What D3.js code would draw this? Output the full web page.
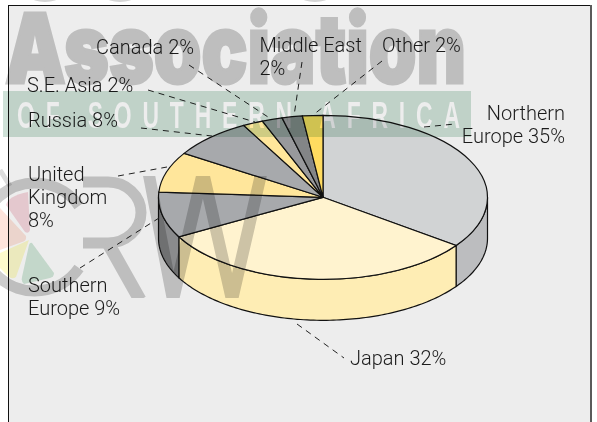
<!DOCTYPE html>
<html>
<head>
<meta charset="utf-8">
<script src="https://cdn.jsdelivr.net/npm/d3@7"></script>
<style>
  html, body { margin: 0; padding: 0; background: #fff; }
  svg { display: block; }
  text { font-family: Roboto, sans-serif; font-weight: 300; font-size: 20px; fill: #1c1c1c; }
</style>
</head>
<body>
<div id="chart"></div>
<script>
// values, clockwise from 12 o'clock
var regions = ["Northern Europe", "Japan", "Southern Europe", "United Kingdom", "Russia", "S.E. Asia", "Canada", "Middle East", "Other"];
var shares = [35, 32, 9, 8, 8, 2, 2, 2, 2];
var labelLines = [["Northern", "Europe 35%"], ["Japan 32%"], ["Southern", "Europe 9%"], ["United", "Kingdom", "8%"], ["Russia 8%"], ["S.E. Asia 2%"], ["Canada 2%"], ["Middle East", "2%"], ["Other 2%"]];
var topColors = ["#d1d3d4", "#fff3cf", "#a7a9ac", "#ffe69b", "#a7a9ac", "#ffe69b", "#98999c", "#838587", "#ffdb60"];
var sideColors = ["#bcbdbf", "#feedb4", "#8a8b8d", "#ffe69b", "#8a8b8d", "#ffe69b", "#8a8b8d", "#808285", "#ffdb60"];

var width = 597, height = 422;
var cx = 323, cy = 197.3, rx = 164.5, ry = 82, depth = 41;

// label anchor (x, first baseline, align) and leader line, one for each region
var labelPos = [
  {x: 565, y: 120, anchor: "end", leader: [[424, 127], [455, 124]]},
  {x: 350, y: 365, anchor: "start", leader: [[297, 324], [344, 358]]},
  {x: 28, y: 292, anchor: "start", leader: [[80, 268], [159, 218]]},
  {x: 28, y: 181, anchor: "start", leader: [[118, 176], [167, 167]]},
  {x: 28, y: 127, anchor: "start", leader: [[141, 128], [212, 136]]},
  {x: 27, y: 92, anchor: "start", leader: [[148, 90], [255, 122]]},
  {x: 96, y: 54, anchor: "start", leader: [[189, 65], [268, 117]]},
  {x: 259.5, y: 52, anchor: "start", leader: [[302, 62], [294, 116]]},
  {x: 382, y: 52, anchor: "start", leader: [[382, 61], [313, 115]]}
];

var svg = d3.select("#chart").append("svg")
    .attr("width", width)
    .attr("height", height);

// panel
svg.append("rect").attr("x", 8.5).attr("y", 5.5).attr("width", 582).attr("height", 420)
    .attr("fill", "#ededed").attr("stroke", "#111").attr("stroke-width", 1);
svg.append("line").attr("x1", 591).attr("x2", 591).attr("y1", 5).attr("y2", height)
    .attr("stroke", "#5a5a5a").attr("stroke-width", 2);

var pie = d3.pie().sort(null).value(function(d) { return d; });
var arcs = pie(shares);

var px = function(a) { return cx + rx * Math.sin(a); };
var py = function(a) { return cy - ry * Math.cos(a); };

// side wall, only the front half of the disc shows
var side = svg.append("g");
arcs.forEach(function(d, i) {
  var a0 = Math.max(d.startAngle, Math.PI / 2);
  var a1 = Math.min(d.endAngle, Math.PI * 1.5);
  if (a1 <= a0) return;
  var angles = d3.range(a0, a1, 0.02).concat([a1]);
  var top = angles.map(function(a) { return [px(a), py(a)]; });
  var bottom = angles.slice().reverse().map(function(a) { return [px(a), py(a) + depth]; });
  side.append("path")
      .attr("d", d3.line()(top.concat(bottom)) + "Z")
      .attr("fill", sideColors[i])
      .attr("stroke", "#111")
      .attr("stroke-width", 1.2);
});

// top face: circular arcs squashed into an ellipse
var arc = d3.arc().innerRadius(0).outerRadius(rx);
svg.append("g")
    .attr("transform", "translate(" + cx + "," + cy + ") scale(1," + (ry / rx) + ")")
  .selectAll("path")
  .data(arcs)
  .enter().append("path")
    .attr("d", arc)
    .attr("fill", function(d, i) { return topColors[i]; })
    .attr("stroke", "#111")
    .attr("stroke-width", 1.2)
    .attr("vector-effect", "non-scaling-stroke");

// leaders
svg.append("g").selectAll("path")
  .data(labelPos)
  .enter().append("path")
    .attr("d", function(d) { return d3.line()(d.leader); })
    .attr("fill", "none")
    .attr("stroke", "#222")
    .attr("stroke-width", 1)
    .attr("stroke-dasharray", "6,5");

// labels
svg.append("g").selectAll("text")
  .data(labelPos)
  .enter().append("text")
    .attr("text-anchor", function(d) { return d.anchor; })
    .each(function(d, i) {
      var t = d3.select(this);
      labelLines[i].forEach(function(line, j) {
        t.append("tspan").attr("x", d.x).attr("y", d.y + j * 23).text(line);
      });
    });

// watermark printed over the whole page
var defs = svg.append("defs");
var mask = defs.append("mask").attr("id", "bandMask").attr("maskUnits", "userSpaceOnUse")
    .attr("x", 0).attr("y", 0).attr("width", width).attr("height", height);
mask.append("rect").attr("width", width).attr("height", height).attr("fill", "#fff");
mask.append("text")
    .attr("transform", "translate(17,128) scale(0.62,1)")
    .attr("textLength", 443 / 0.62)
    .attr("lengthAdjust", "spacing")
    .style("font-family", "'Liberation Sans', sans-serif")
    .style("font-weight", 700)
    .style("font-size", "37px")
    .style("fill", "#000")
    .text("OF SOUTHERN AFRICA");
defs.append("clipPath").attr("id", "crwClip").append("rect")
    .attr("x", 0).attr("y", 176).attr("width", 300).attr("height", 122);

var mark = svg.append("g").style("mix-blend-mode", "multiply");
var markGrey = "#cdcdcd";

mark.append("text")
    .attr("x", 5).attr("y", 83)
    .attr("textLength", 461)
    .attr("lengthAdjust", "spacingAndGlyphs")
    .style("font-family", "Inter, 'Open Sans', sans-serif")
    .style("font-weight", 900)
    .style("font-size", "96px")
    .style("fill", markGrey)
    .style("stroke", markGrey)
    .style("stroke-width", 3)
    .text("Association");

mark.append("rect")
    .attr("x", 3).attr("y", 91).attr("width", 468).attr("height", 46)
    .attr("fill", "#cfe2d8")
    .attr("mask", "url(#bandMask)");

// CRW logo
var crw = mark.append("g").attr("clip-path", "url(#crwClip)");
var strokeIt = function(d, w) {
  crw.append("path").attr("d", d).attr("fill", "none")
      .attr("stroke", markGrey).attr("stroke-width", w);
};
strokeIt("M79,206 A54,54 0 1 0 79,268", 11);
strokeIt("M83,182 H108 A33,30.5 0 0 1 108,243 H83", 11);
strokeIt("M108,243 L140,300", 13);
strokeIt("M148,170 L173,300 L203,172 L232,300 L262,170", 12);

svg.append("path").attr("d", "M0,170 L10,186")
    .attr("stroke", "#ddd").attr("stroke-width", 5).style("mix-blend-mode", "multiply");

// fruit petals of the logo
var petals = [
  {c: "#f6d8de", d: "M28,192 L30,230 Q29,234 25,232 L6,205 Q8,196 28,192Z"},
  {c: "#fde4dc", d: "M0,208 L26,236 Q27,241 22,242 L0,250Z"},
  {c: "#fdfbcc", d: "M29,240 L16,277 Q12,280 8,276 L0,268 L0,253Z"},
  {c: "#d2e8da", d: "M32,243 L54,273 Q54,277 50,278 L24,284 Q21,282 22,277 L29,245 Q30,242 32,243Z"}
];
mark.selectAll("path.petal").data(petals).enter().append("path")
    .attr("class", "petal")
    .attr("d", function(d) { return d.d; })
    .attr("fill", function(d) { return d.c; });

// what is left of the line of type above the panel
svg.append("g").selectAll("ellipse")
    .data([45, 120, 315])
    .enter().append("ellipse")
    .attr("cx", function(d) { return d; })
    .attr("cy", -3)
    .attr("rx", 14)
    .attr("ry", 5)
    .attr("fill", "#d5d5d5");
</script>
</body>
</html>
